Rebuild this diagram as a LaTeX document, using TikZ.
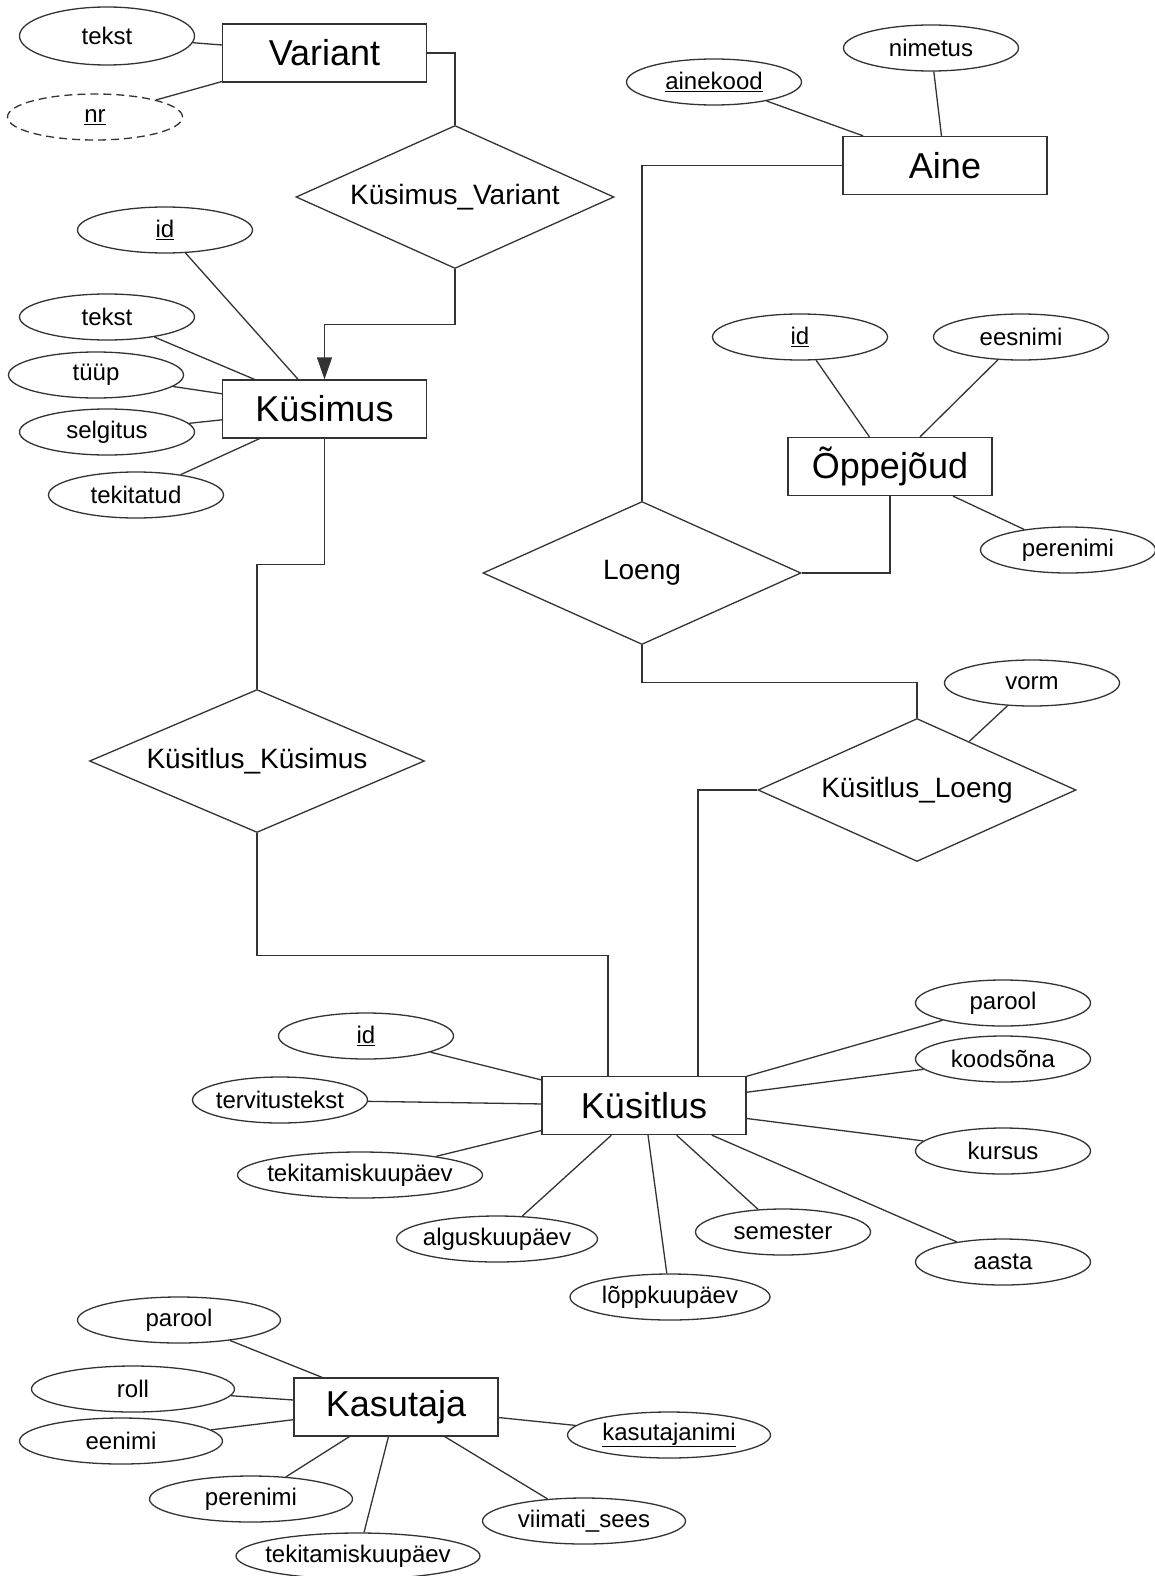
\documentclass[tikz,border=0pt]{standalone}
\usepackage{fontspec}
\setmainfont{Liberation Sans}
\usetikzlibrary{shapes.geometric,arrows.meta}
\tikzset{
      entityr/.style={
          rectangle,
          draw=black!80,
          line width=1.3pt,
          minimum width=204pt,
          minimum height=58pt,
          inner sep=0pt,
          font=\fontsize{36}{40}\selectfont
      },
      attre/.style={
          ellipse,
          draw=black!80,
          line width=1.3pt,
          minimum width=175pt,
          minimum height=46pt,
          inner sep=-8pt,
          font=\fontsize{24}{28}\selectfont
      },
      reld/.style={
          diamond,
          draw=black!80,
          line width=1.3pt,
          aspect=2.2,
          minimum width=318pt,
          minimum height=143pt,
          inner sep=0pt,
          font=\fontsize{28}{32}\selectfont
      },
      conn/.style={draw=black!80, line width=1.3pt}
  }

\begin{document}
\begin{tikzpicture}[x=1pt, y=-1pt]
    \useasboundingbox (0,0) rectangle (1154,1576);

    \node [entityr] (v) at (324.5,53) {Variant};
    \node [attre, minimum height=58pt] (v1) at (107,36) {tekst};
    \node [attre, dashed, dash pattern=on 8pt off 5pt] (v2) at (95,117) {\underline{nr}};

    \node [reld] (r1) at (455,197) {Küsimus\_Variant};

    \node [entityr] (k) at (324.5,409) {Küsimus};
    \node [attre] (k1) at (165,230) {\underline{id}};
    \node [attre] (k2) at (107,317) {tekst};
    \node [attre] (k3) at (96,375) {tüüp};
    \node [attre] (k4) at (107,432) {selgitus};
    \node [attre] (k5) at (136,495) {tekitatud};

    \node [reld, minimum width=335pt] (r2) at (257,761) {Küsitlus\_Küsimus};

    \node [entityr] (a) at (945,165.5) {Aine};
    \node [attre] (a1) at (714,82) {\underline{ainekood}};
    \node [attre] (a2) at (931,48) {nimetus};

    \node [entityr] (o) at (890,466.5) {Õppejõud};
    \node [attre] (o1) at (800,337) {\underline{id}};
    \node [attre] (o2) at (1021,337) {eesnimi};
    \node [attre] (o3) at (1068,550) {perenimi};

    \node [reld] (r3) at (642,573) {Loeng};
    \node [reld] (r4) at (917,790) {Küsitlus\_Loeng};
    \node [attre] (r41) at (1032,683) {vorm};

    \node [entityr] (ks) at (644,1105.5) {Küsitlus};
    \node [attre] (ks1) at (366,1036) {\underline{id}};
    \node [attre] (ks2) at (280,1100) {tervitustekst};
    \node [attre, minimum width=245pt] (ks3) at (360,1175) {tekitamiskuupäev};
    \node [attre, minimum width=201pt] (ks4) at (497,1239) {alguskuupäev};
    \node [attre, minimum width=200pt] (ks5) at (670,1297) {lõppkuupäev};
    \node [attre] (ks6) at (783,1232) {semester};
    \node [attre] (ks7) at (1003,1262) {aasta};
    \node [attre] (ks8) at (1003,1151) {kursus};
    \node [attre] (ks9) at (1003,1059) {koodsõna};
    \node [attre] (ks10) at (1003,1003) {parool};

    \node [entityr] (ku) at (396,1407) {Kasutaja};
    \node [attre, minimum width=203pt] (ku1) at (179,1320) {parool};
    \node [attre, minimum width=203pt] (ku2) at (133,1389) {roll};
    \node [attre, minimum width=203pt] (ku3) at (121,1441) {eenimi};
    \node [attre, minimum width=203pt] (ku4) at (251,1499) {perenimi};
    \node [attre, minimum width=244pt] (ku5) at (358,1556) {tekitamiskuupäev};
    \node [attre, minimum width=203pt] (ku6) at (584,1521) {viimati\_sees};
    \node [attre, minimum width=203pt] (ku7) at (669,1435) {\underline{kasutajanimi}};

    %%
    \draw[conn] (v1) -- (v);
    \draw[conn] (v2) -- (v);

    \draw[conn] (k1) -- (k);
    \draw[conn] (k2) -- (k);
    \draw[conn] (k3) -- (k);
    \draw[conn] (k4) -- (k);
    \draw[conn] (k5) -- (k);

    \draw[conn] (a1) -- (a);
    \draw[conn] (a2) -- (a);

    \draw[conn] (o1) -- (o);
    \draw[conn] (o2) -- (o);
    \draw[conn] (o3) -- (o);

    \draw[conn] (r41) -- (r4);

    \draw[conn] (ks1) -- (ks);
    \draw[conn] (ks2) -- (ks);
    \draw[conn] (ks3) -- (ks);
    \draw[conn] (ks4) -- (ks);
    \draw[conn] (ks5) -- (ks);
    \draw[conn] (ks6) -- (ks);
    \draw[conn] (ks7) -- (ks);
    \draw[conn] (ks8) -- (ks);
    \draw[conn] (ks9) -- (ks);
    \draw[conn] (ks10) -- (ks);

    \draw[conn] (ku1) -- (ku);
    \draw[conn] (ku2) -- (ku);
    \draw[conn] (ku3) -- (ku);
    \draw[conn] (ku4) -- (ku);
    \draw[conn] (ku5) -- (ku);
    \draw[conn] (ku6) -- (ku);
    \draw[conn] (ku7) -- (ku);
    %%

    \draw[conn] (v.east) -| (r1.north);
    \draw[conn, -{Triangle[length=22pt,width=15pt]}] (r1.south) -- ++(0,55) -| (k.north);
    \draw[conn] (k.south) -- ++(0,126) -| (r2.north);
    \draw[conn] (r2.south) -- ++(0,122) -| ([xshift=-36pt]ks.north);
    \draw[conn] (a.west) -| (r3.north);
    \draw[conn] (r3.east) -| (o.south);
    \draw[conn] (r3.south) -- ++(0,37) -| (r4.north);
    \draw[conn] (r4.west) -| ([xshift=54pt]ks.north);
\end{tikzpicture}
\end{document}
